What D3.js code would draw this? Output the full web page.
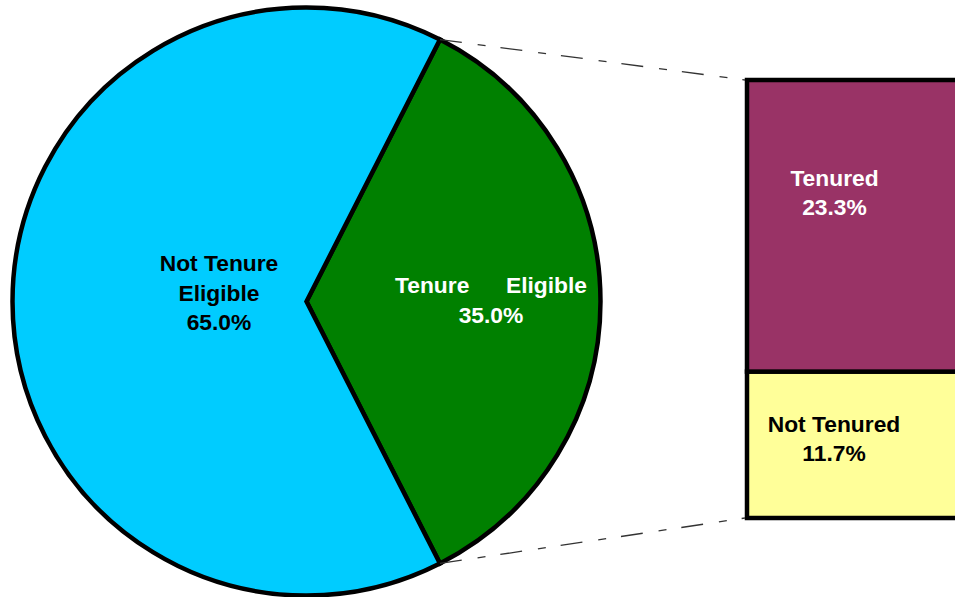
<!DOCTYPE html>
<html>
<head>
<meta charset="utf-8">
<script src="https://cdn.jsdelivr.net/npm/d3@7"></script>
<style>
  html, body { margin: 0; padding: 0; background: #fff; overflow: hidden; }
  text { font-family: "Liberation Sans", Arial, sans-serif; font-weight: bold; font-size: 22.8px; }
</style>
</head>
<body>
<svg id="chart" width="955" height="597"></svg>
<script>
// pie data
var pieLabels = ["Tenure Eligible", "Not Tenure Eligible"];
var pieValues = [35.0, 65.0];
var pieColors = ["#008000", "#00ccff"];

// breakdown of the tenure eligible slice
var barLabels = ["Not Tenured", "Tenured"];
var barValues = [11.7, 23.3];
var barColors = ["#ffff99", "#993366"];

var svg = d3.select("#chart");

var cx = 306.5, cy = 301.5, radius = 294;

var pie = d3.pie()
  .sort(null)
  .value(function (d) { return d; })
  .startAngle(0.15 * Math.PI)
  .endAngle(2.15 * Math.PI);

var arcs = pie(pieValues);

var arc = d3.arc().innerRadius(0).outerRadius(radius);

var g = svg.append("g").attr("transform", `translate(${cx}, ${cy})`);

g.selectAll("path.slice")
  .data(arcs)
  .enter().append("path")
  .attr("class", "slice")
  .attr("d", arc)
  .attr("fill", function (d, i) { return pieColors[i]; })
  .attr("stroke", "#000")
  .attr("stroke-width", 4.5)
  .attr("stroke-linejoin", "miter");

// bar on the right
var barX = 747, barW = 270;
var y = d3.scaleLinear()
  .domain([0, d3.sum(barValues)])
  .range([518, 80]);

var stacked = [];
var acc = 0;
barValues.forEach(function (v, i) {
  stacked.push({ label: barLabels[i], value: v, y0: acc, y1: acc + v, color: barColors[i] });
  acc += v;
});

svg.selectAll("rect.part")
  .data(stacked)
  .enter().append("rect")
  .attr("class", "part")
  .attr("x", barX)
  .attr("width", barW)
  .attr("y", function (d) { return y(d.y1); })
  .attr("height", function (d) { return y(d.y0) - y(d.y1); })
  .attr("fill", function (d) { return d.color; })
  .attr("stroke", "#000")
  .attr("stroke-width", 4.5);

// connector lines from the green slice edges to the bar corners
var green = arcs[0];
function edgePoint(a) {
  return [cx + radius * Math.sin(a), cy - radius * Math.cos(a)];
}
var p0 = edgePoint(green.startAngle);
var p1 = edgePoint(green.endAngle);

svg.append("line")
  .attr("x1", p0[0]).attr("y1", p0[1])
  .attr("x2", barX - 2).attr("y2", y(d3.sum(barValues)))
  .attr("stroke", "#333").attr("stroke-width", 1.3)
  .attr("stroke-dasharray", "22,16,8,15");

svg.append("line")
  .attr("x1", p1[0]).attr("y1", p1[1])
  .attr("x2", barX - 2).attr("y2", y(0))
  .attr("stroke", "#333").attr("stroke-width", 1.3)
  .attr("stroke-dasharray", "22,16,8,15");

// pie labels
var notElig = svg.append("text")
  .attr("text-anchor", "middle")
  .attr("fill", "#000");
["Not Tenure", "Eligible", pieValues[1].toFixed(1) + "%"].forEach(function (t, i) {
  notElig.append("tspan").attr("x", 219).attr("y", 271 + i * 29.5).text(t);
});

var words = pieLabels[0].split(" ");
svg.append("text").attr("x", 395).attr("y", 293).attr("fill", "#fff")
  .attr("text-anchor", "start").text(words[0]);
svg.append("text").attr("x", 587).attr("y", 293).attr("fill", "#fff")
  .attr("text-anchor", "end").text(words[1]);
svg.append("text").attr("x", 491).attr("y", 323).attr("fill", "#fff")
  .attr("text-anchor", "middle").text(pieValues[0].toFixed(1) + "%");

// bar labels
var barLabelPos = [
  { x: 834, y: 431.5, fill: "#000" },
  { x: 834.5, y: 186, fill: "#fff" }
];
stacked.forEach(function (d, i) {
  var t = svg.append("text")
    .attr("text-anchor", "middle")
    .attr("fill", barLabelPos[i].fill);
  t.append("tspan").attr("x", barLabelPos[i].x).attr("y", barLabelPos[i].y).text(d.label);
  t.append("tspan").attr("x", barLabelPos[i].x).attr("y", barLabelPos[i].y + 29).text(d.value.toFixed(1) + "%");
});
</script>
</body>
</html>
